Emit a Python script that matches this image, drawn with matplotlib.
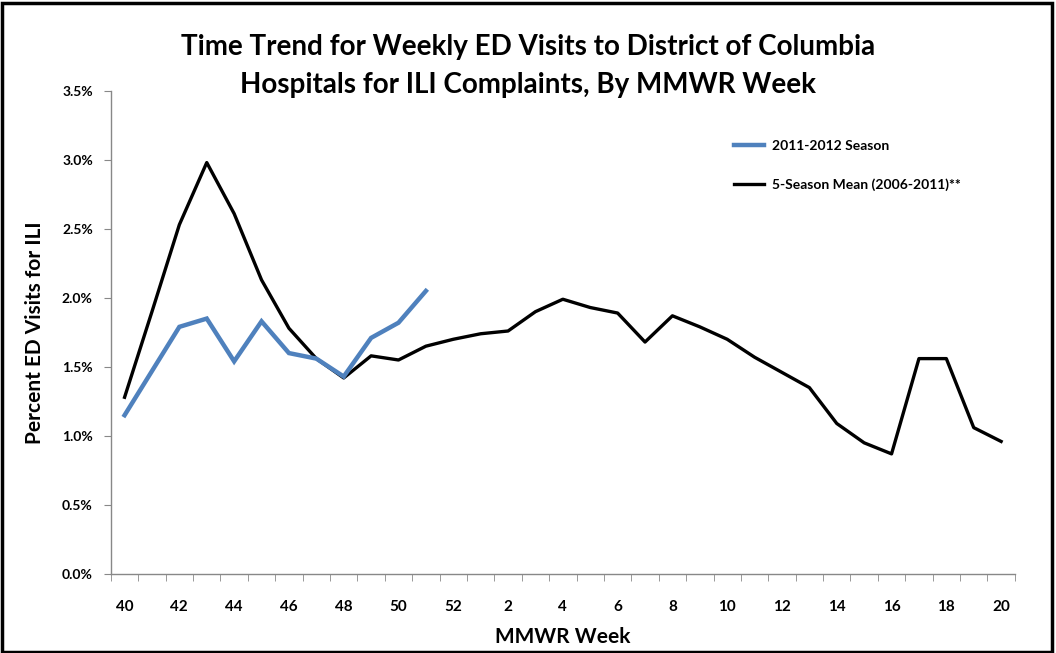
import matplotlib
matplotlib.use("Agg")
import matplotlib.pyplot as plt
from matplotlib.patches import Rectangle
from matplotlib.ticker import FuncFormatter, FixedLocator

weeks = [40, 41, 42, 43, 44, 45, 46, 47, 48, 49, 50, 51, 52] + list(range(1, 21))
season_2011 = [1.15, 1.47, 1.79, 1.85, 1.54, 1.83, 1.60, 1.56, 1.43, 1.71, 1.82, 2.05]
mean_5season = [1.28, 1.90, 2.53, 2.98, 2.61, 2.13, 1.78, 1.56, 1.42, 1.58, 1.55, 1.65, 1.70,
                1.74, 1.76, 1.90, 1.99, 1.93, 1.89, 1.68, 1.87, 1.79, 1.70, 1.57, 1.46,
                1.35, 1.09, 0.95, 0.87, 1.56, 1.56, 1.06, 0.96]
label_2011 = "2011-2012 Season"
label_mean = "5-Season Mean (2006-2011)**"
title = "Time Trend for Weekly ED Visits to District of Columbia\nHospitals for ILI Complaints, By MMWR Week"
xlabel = "MMWR Week"
ylabel = "Percent ED Visits for ILI"
yticks = [0.0, 0.5, 1.0, 1.5, 2.0, 2.5, 3.0, 3.5]

FONT = "Lato"
plt.rcParams['font.family'] = [FONT, 'DejaVu Sans']

fig = plt.figure(figsize=(10.56, 6.53), dpi=100)
ax = fig.add_axes([0.105, 0.121, 0.856, 0.740])

idx = list(range(len(weeks)))
ax.plot(idx[:len(season_2011)], season_2011, color="#4F81BD", lw=3.2, label=label_2011,
        solid_joinstyle="miter", zorder=3)
ax.plot(idx, mean_5season, color="black", lw=2.4, label=label_mean, zorder=2)

ax.set_xlim(-0.5, len(weeks) - 0.5)
ax.set_ylim(0, 3.5)
ax.set_yticks(yticks)
ax.yaxis.set_major_formatter(FuncFormatter(lambda v, p: f"{v:.1f}%"))

major = [i for i in idx if i % 2 == 0]
ax.set_xticks(major)
ax.set_xticklabels([str(weeks[i]) for i in major])
ax.xaxis.set_minor_locator(FixedLocator([i - 0.5 for i in range(len(weeks) + 1)]))
ax.tick_params(axis="x", which="major", length=0, pad=19, labelsize=11)
ax.tick_params(axis="x", which="minor", length=5, color="#888888", direction="out")
ax.tick_params(axis="y", length=5, color="#888888", labelsize=10, pad=8)
for lab in ax.get_xticklabels() + ax.get_yticklabels():
    lab.set_fontweight("bold")

for s in ["top", "right"]:
    ax.spines[s].set_visible(False)
for s in ["left", "bottom"]:
    ax.spines[s].set_color("#888888")
    ax.spines[s].set_linewidth(1.0)

ax.set_xlabel(xlabel, fontsize=15, fontweight="bold", labelpad=9)
ax.set_ylabel(ylabel, fontsize=15, fontweight="bold", labelpad=12)

fig.text(0.5, 0.899, title, ha="center", va="center", fontsize=20, fontweight="bold",
         linespacing=1.6)

leg = ax.legend(loc="upper left", bbox_to_anchor=(0.675, 0.924), frameon=False,
                fontsize=10, handlelength=2.2, labelspacing=1.9, handletextpad=0.6)
for t in leg.get_texts():
    t.set_fontweight("bold")

fig.patches.append(Rectangle((0.002, 0.002), 0.994, 0.994, transform=fig.transFigure,
                             fill=False, edgecolor="black", lw=2.5))

fig.savefig("out.png", dpi=100)
